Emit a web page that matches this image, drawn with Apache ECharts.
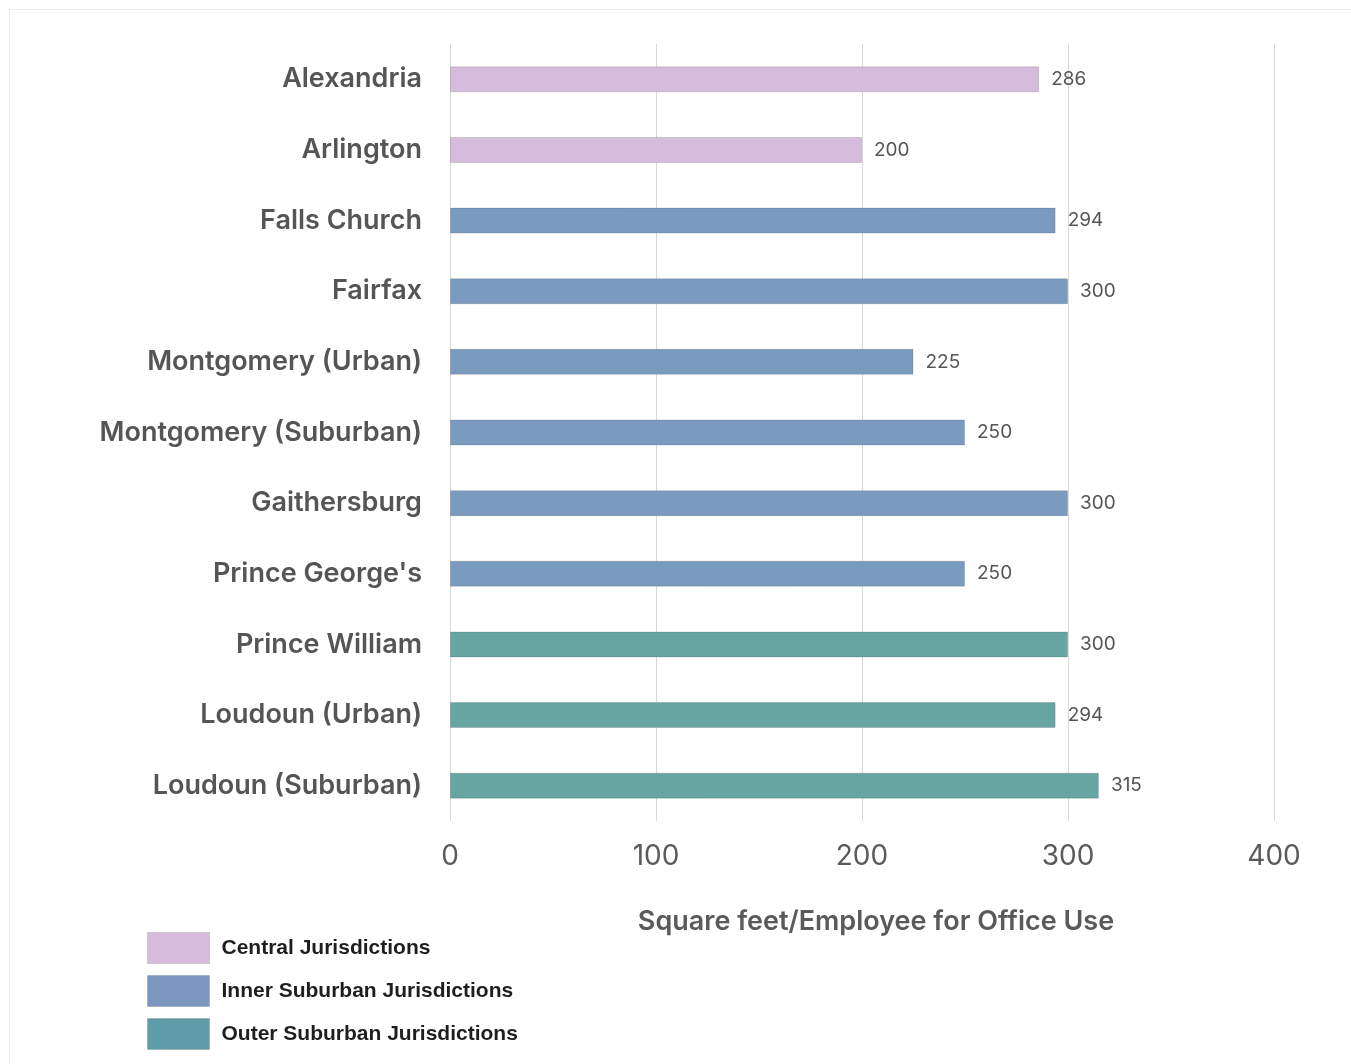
<!DOCTYPE html>
<html>
<head>
<meta charset="utf-8">
<script src="https://cdn.jsdelivr.net/npm/echarts@6/dist/echarts.min.js"></script>
<style>
  html, body { margin: 0; padding: 0; background: #ffffff; }
  #chart { width: 1351px; height: 1064px; }
</style>
</head>
<body>
<div id="chart"></div>
<script>
// Jurisdictions, top to bottom
const jurisdictions = [
  'Alexandria', 'Arlington', 'Falls Church', 'Fairfax', 'Montgomery (Urban)',
  'Montgomery (Suburban)', 'Gaithersburg', "Prince George's", 'Prince William',
  'Loudoun (Urban)', 'Loudoun (Suburban)'
];
// Square feet per employee, split by jurisdiction group ('-' = not in group)
const centralValues = [286, 200, '-', '-', '-', '-', '-', '-', '-', '-', '-'];
const innerValues   = ['-', '-', 294, 300, 225, 250, 300, 250, '-', '-', '-'];
const outerValues   = ['-', '-', '-', '-', '-', '-', '-', '-', 300, 294, 315];
const groupNames = ['Central Jurisdictions', 'Inner Suburban Jurisdictions', 'Outer Suburban Jurisdictions'];
const xTicks = [0, 100, 200, 300, 400];

const colors = ['#d5bcdc', '#7a9abf', '#66a5a2'];
const legendColors = ['#d6bbdc', '#7b97bf', '#5e9ca7'];

const chart = echarts.init(document.getElementById('chart'), null, { renderer: 'canvas' });

function barSeries(name, data, idx) {
  return {
    name: name,
    type: 'bar',
    stack: 'all',
    data: data,
    barWidth: 26,
    itemStyle: { color: colors[idx], borderColor: 'rgba(0,0,0,0.13)', borderWidth: 1 },
    label: {
      show: true,
      position: 'right',
      distance: 12,
      fontFamily: 'Inter',
      fontSize: 19,
      color: '#555555',
      formatter: p => p.value
    }
  };
}

chart.setOption({
  animation: false,
  backgroundColor: '#ffffff',
  graphic: [{
    type: 'rect',
    shape: { x: 9.5, y: 9.5, width: 1400, height: 1100 },
    style: { fill: 'none', stroke: '#ececec', lineWidth: 1 },
    z: -10
  }],
  grid: { left: 450, right: 77, top: 44, bottom: 243, containLabel: false },
  legend: {
    orient: 'vertical',
    left: 147,
    top: 932,
    padding: 0,
    itemWidth: 62,
    itemHeight: 31,
    itemGap: 11,
    icon: 'rect',
    data: groupNames.map((n, i) => ({
      name: n,
      itemStyle: { color: legendColors[i], borderColor: 'rgba(0,0,0,0.12)', borderWidth: 1 }
    })),
    textStyle: { fontFamily: 'Liberation Sans', fontWeight: 'bold', fontSize: 21, color: '#1e1e1e', padding: [7, 0, 0, 7] }
  },
  xAxis: {
    type: 'value',
    min: xTicks[0],
    max: xTicks[xTicks.length - 1],
    interval: 100,
    name: 'Square feet/Employee for Office Use',
    nameLocation: 'middle',
    nameGap: 87,
    nameTextStyle: { fontFamily: 'Inter', fontWeight: 600, fontSize: 27, color: '#5a5a5a', padding: [0, 0, 0, 28] },
    axisLine: { show: false },
    axisTick: { show: false },
    axisLabel: { fontFamily: 'Inter', fontSize: 28, color: '#5a5a5a', margin: 22 },
    splitLine: { lineStyle: { color: '#d9d9d9', width: 1 } }
  },
  yAxis: {
    type: 'category',
    data: jurisdictions,
    inverse: true,
    axisLine: { show: false },
    axisTick: { show: false },
    axisLabel: { fontFamily: 'Inter', fontWeight: 600, fontSize: 27, color: '#555555', margin: 28 }
  },
  series: [
    barSeries(groupNames[0], centralValues, 0),
    barSeries(groupNames[1], innerValues, 1),
    barSeries(groupNames[2], outerValues, 2)
  ]
});
</script>
</body>
</html>
